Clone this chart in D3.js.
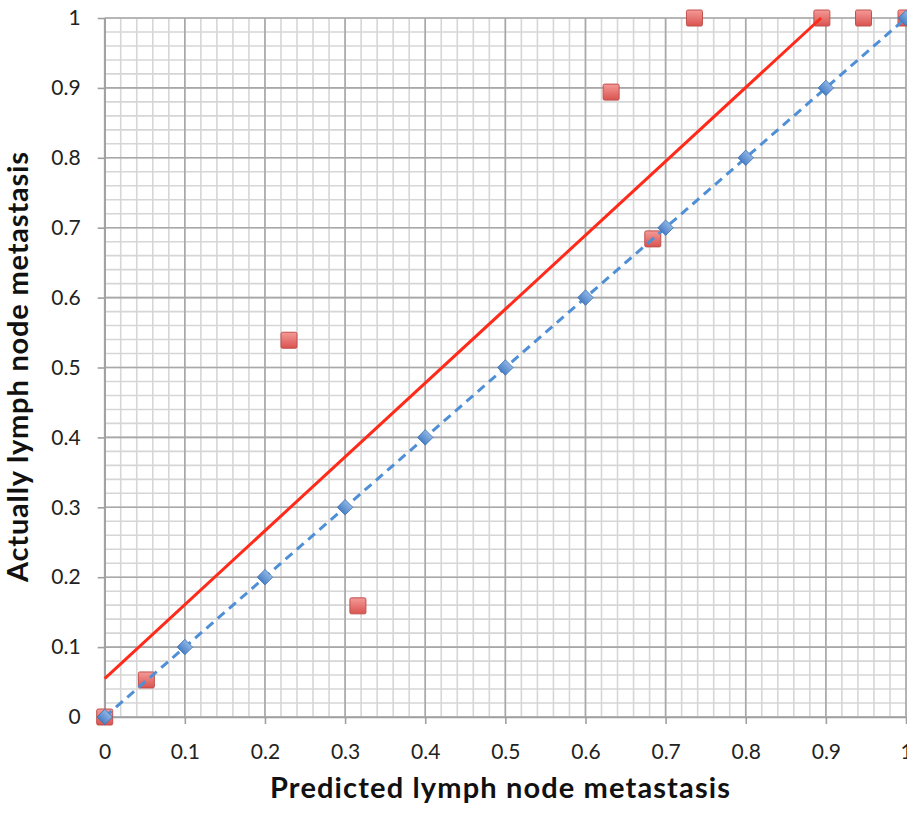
<!DOCTYPE html>
<html>
<head>
<meta charset="utf-8">
<script src="https://cdn.jsdelivr.net/npm/d3@7"></script>
<style>
  body { margin: 0; background: #fff; }
  .tick-label { font-family: Lato, "Open Sans", sans-serif; font-size: 21px; fill: #222; }
  .axis-title { font-family: Lato, "Open Sans", sans-serif; font-size: 29px; font-weight: bold; fill: #111; }
</style>
</head>
<body>
<svg id="chart" width="907" height="813"></svg>
<script>
// observed calibration points
const predicted = [0, 0.052, 0.23, 0.316, 0.632, 0.684, 0.736, 0.895, 0.947, 1.0];
const actual = [0, 0.053, 0.539, 0.159, 0.894, 0.684, 1.0, 1.0, 1.0, 1.0];

// ideal reference line
const ideal = [0, 0.1, 0.2, 0.3, 0.4, 0.5, 0.6, 0.7, 0.8, 0.9, 1.0];

// linear trend of observed points
const trendIntercept = 0.055;
const trendSlope = 1.057;

const tickValues = [0, 0.1, 0.2, 0.3, 0.4, 0.5, 0.6, 0.7, 0.8, 0.9, 1];
const xTitle = "Predicted lymph node metastasis";
const yTitle = "Actually lymph node metastasis";

const svg = d3.select("#chart");

const x = d3.scaleLinear().domain([0, 1]).range([104.7, 906]);
const y = d3.scaleLinear().domain([0, 1]).range([717, 18]);

const minorTicks = d3.range(0, 51).map(i => i / 50);

// minor grid
const grid = svg.append("g");
grid.selectAll(".vminor")
    .data(minorTicks)
    .join("line")
    .attr("x1", d => x(d)).attr("x2", d => x(d))
    .attr("y1", y(0)).attr("y2", y(1))
    .attr("stroke", "#d6d6d6")
    .attr("stroke-width", 1.6);
grid.selectAll(".hminor")
    .data(minorTicks)
    .join("line")
    .attr("y1", d => y(d)).attr("y2", d => y(d))
    .attr("x1", x(0)).attr("x2", x(1))
    .attr("stroke", "#d6d6d6")
    .attr("stroke-width", 1.6);

// major grid
grid.selectAll(".vmajor")
    .data(tickValues)
    .join("line")
    .attr("x1", d => x(d)).attr("x2", d => x(d))
    .attr("y1", y(0)).attr("y2", y(1))
    .attr("stroke", "#a8a8a8")
    .attr("stroke-width", 1.6);
grid.selectAll(".hmajor")
    .data(tickValues)
    .join("line")
    .attr("y1", d => y(d)).attr("y2", d => y(d))
    .attr("x1", x(0)).attr("x2", x(1))
    .attr("stroke", "#a8a8a8")
    .attr("stroke-width", 1.6);

// axes
const xAxis = d3.axisBottom(x).tickValues(tickValues).tickSize(7).tickSizeOuter(0).tickPadding(20)
    .tickFormat(d3.format("~g"));
const yAxis = d3.axisLeft(y).tickValues(tickValues).tickSize(7).tickSizeOuter(0).tickPadding(17)
    .tickFormat(d3.format("~g"));

const gx = svg.append("g")
    .attr("transform", `translate(0,${y(0)})`)
    .call(xAxis);
const gy = svg.append("g")
    .attr("transform", `translate(${x(0)},0)`)
    .call(yAxis);

[gx, gy].forEach(g => {
    g.select(".domain").attr("stroke", "#a0a0a0").attr("stroke-width", 1.6);
    g.selectAll(".tick line").attr("stroke", "#a0a0a0").attr("stroke-width", 1.6);
    g.selectAll(".tick text").attr("class", "tick-label").attr("font-size", null).attr("font-family", null);
});

// gradients for markers
const defs = svg.append("defs");
const redGrad = defs.append("linearGradient").attr("id", "redGrad")
    .attr("x1", 0).attr("y1", 0).attr("x2", 0).attr("y2", 1);
redGrad.append("stop").attr("offset", "0%").attr("stop-color", "#f49a98");
redGrad.append("stop").attr("offset", "100%").attr("stop-color", "#d9534f");
const blueGrad = defs.append("linearGradient").attr("id", "blueGrad")
    .attr("x1", 0).attr("y1", 0).attr("x2", 0).attr("y2", 1);
blueGrad.append("stop").attr("offset", "0%").attr("stop-color", "#8fb6e6");
blueGrad.append("stop").attr("offset", "100%").attr("stop-color", "#4a7fc4");

// observed points
const observed = predicted.map((p, i) => ({ p: p, a: actual[i] }));
svg.append("g")
    .selectAll("rect")
    .data(observed)
    .join("rect")
    .attr("x", d => x(d.p) - 8)
    .attr("y", d => y(d.a) - 8)
    .attr("width", 16)
    .attr("height", 16)
    .attr("rx", 1.5)
    .attr("fill", "url(#redGrad)")
    .attr("stroke", "#c0504d")
    .attr("stroke-width", 1);

// ideal dashed line with diamonds
const line = d3.line().x(d => x(d)).y(d => y(d));
svg.append("path")
    .datum(ideal)
    .attr("d", line)
    .attr("fill", "none")
    .attr("stroke", "#4f8fd6")
    .attr("stroke-width", 3)
    .attr("stroke-dasharray", "9,6");

svg.append("g")
    .selectAll("path")
    .data(ideal)
    .join("path")
    .attr("d", d3.symbol().type(d3.symbolSquare).size(120))
    .attr("transform", d => `translate(${x(d)},${y(d)}) rotate(45)`)
    .attr("fill", "url(#blueGrad)")
    .attr("stroke", "#3f72b5")
    .attr("stroke-width", 0.8);

// trend line
const trendEnd = (1 - trendIntercept) / trendSlope;
svg.append("line")
    .attr("x1", x(0)).attr("y1", y(trendIntercept))
    .attr("x2", x(trendEnd)).attr("y2", y(trendIntercept + trendSlope * trendEnd))
    .attr("stroke", "#ff2a1a")
    .attr("stroke-width", 3);

// titles
svg.append("text")
    .attr("class", "axis-title")
    .attr("x", 500)
    .attr("y", 798)
    .attr("text-anchor", "middle")
    .attr("textLength", 460)
    .attr("lengthAdjust", "spacing")
    .text(xTitle);

svg.append("text")
    .attr("class", "axis-title")
    .attr("transform", `translate(28,367) rotate(-90)`)
    .attr("text-anchor", "middle")
    .attr("textLength", 430)
    .attr("lengthAdjust", "spacing")
    .text(yTitle);
</script>
</body>
</html>
